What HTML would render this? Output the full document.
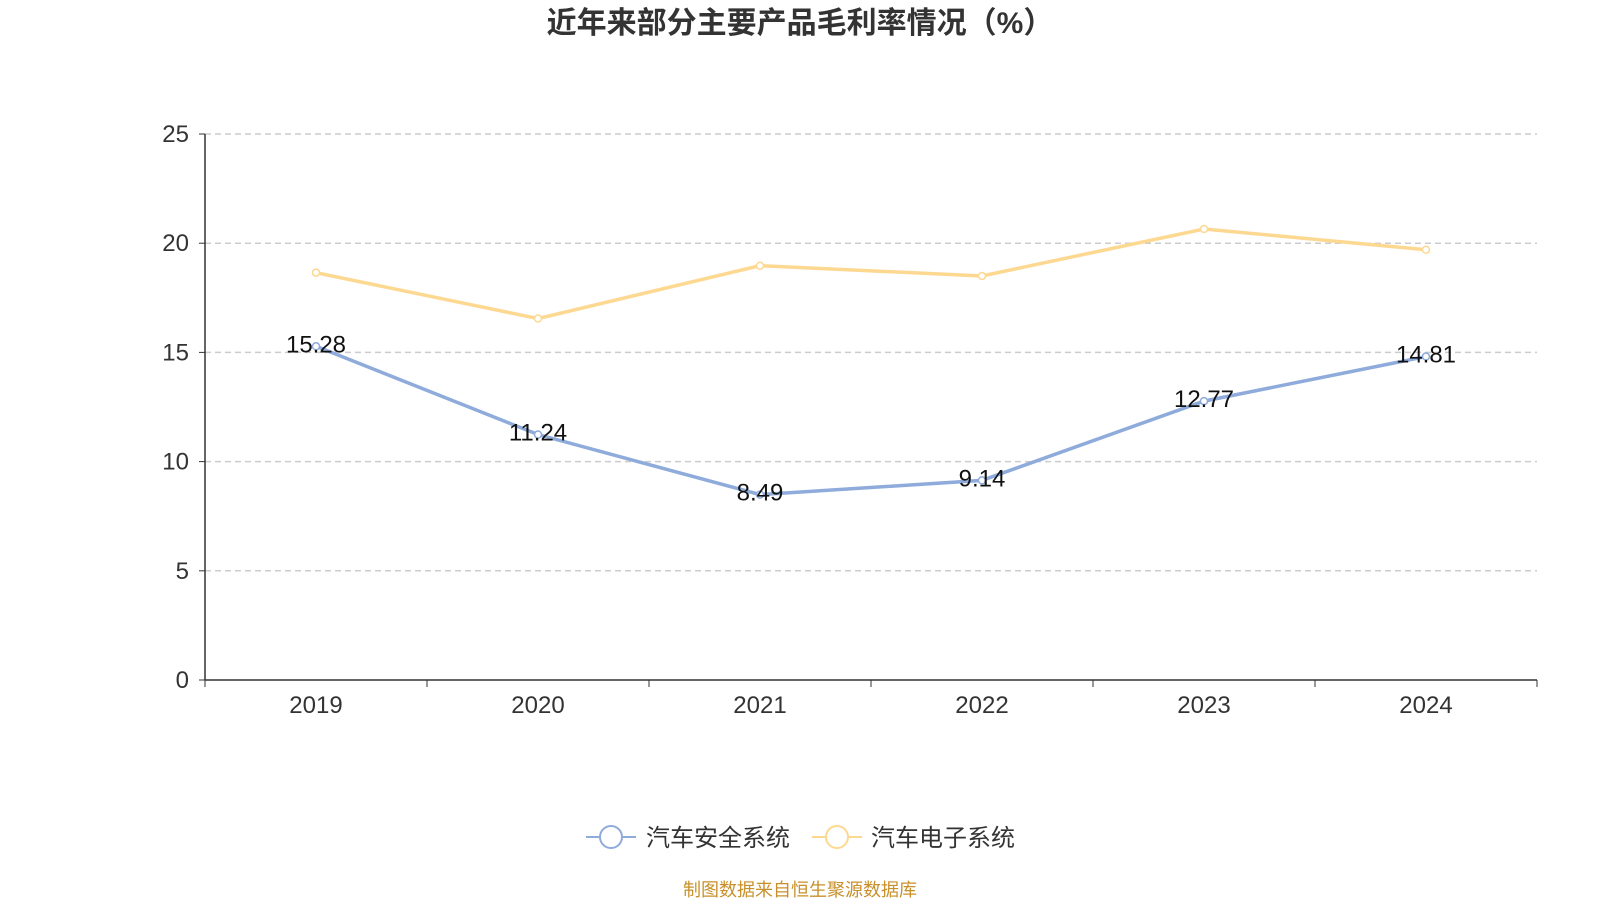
<!DOCTYPE html>
<html><head><meta charset="utf-8"><style>
body{margin:0;background:#fff;}
svg text{font-family:"Liberation Sans","Noto Sans CJK SC",sans-serif;}
</style></head><body>
<svg width="1600" height="900" xmlns="http://www.w3.org/2000/svg" id="chart">
<text x="800" y="33" text-anchor="middle" font-size="30" font-weight="bold" fill="#333">近年来部分主要产品毛利率情况（%）</text>
<g id="grid"></g><g id="axes"></g><g id="series"></g>
<g>
<g>
<line x1="586" y1="837" x2="636" y2="837" stroke="#8eabdb" stroke-width="2"/>
<circle cx="611" cy="837" r="11" fill="#fff" stroke="#8eabdb" stroke-width="2"/>
<text x="646" y="846" font-size="24" fill="#333">汽车安全系统</text></g>
<g>
<line x1="812" y1="837" x2="862" y2="837" stroke="#fdd891" stroke-width="2"/>
<circle cx="837" cy="837" r="11" fill="#fff" stroke="#fdd891" stroke-width="2"/>
<text x="871" y="846" font-size="24" fill="#333">汽车电子系统</text></g>
</g>
<text x="800" y="896" text-anchor="middle" font-size="18" fill="#c8902a">制图数据来自恒生聚源数据库</text>
</svg>
<script>
const categories=["2019","2020","2021","2022","2023","2024"];
const safetyValues=[15.28,11.24,8.49,9.14,12.77,14.81];
const electronicsValues=[18.65,16.55,18.97,18.5,20.65,19.7];
const yTicks=[0,5,10,15,20,25];
const NS="http://www.w3.org/2000/svg";
const L=205,R=1537,T=134,B=680,yMax=25;
const y=v=>B-(v/yMax)*(B-T);
const bw=(R-L)/categories.length;
const x=i=>L+bw*(i+0.5);
function mk(t,a,p,txt){const e=document.createElementNS(NS,t);for(const k in a)e.setAttribute(k,a[k]);if(txt!==undefined)e.textContent=txt;p.appendChild(e);return e;}
const grid=document.getElementById('grid'),axes=document.getElementById('axes'),series=document.getElementById('series');
yTicks.forEach(v=>{
 if(v>0){const g=mk('line',{x1:L,x2:R,y1:y(v),y2:y(v),stroke:'#ccc','stroke-dasharray':'6,4','stroke-width':1.5},grid);
 
 }
 mk('line',{x1:L-6,x2:L,y1:y(v),y2:y(v),stroke:'#333'},axes);
 const t=mk('text',{x:L-16,y:y(v)+8,'text-anchor':'end','font-size':24,fill:'#333'},axes,v);
 
 
});
const ya=mk('line',{x1:L,x2:L,y1:T,y2:B,stroke:'#333','stroke-width':1.5},axes);


const xa=mk('line',{x1:L,x2:R,y1:B,y2:B,stroke:'#333','stroke-width':1.5},axes);


for(let i=0;i<=categories.length;i++)mk('line',{x1:L+bw*i,x2:L+bw*i,y1:B,y2:B+7,stroke:'#333'},axes);
categories.forEach((c,i)=>{const t=mk('text',{x:x(i),y:B+33,'text-anchor':'middle','font-size':24,fill:'#333'},axes,c);
 
 });
function draw(vals,color,name,labels){
 const p=mk('polyline',{points:vals.map((v,i)=>x(i)+','+y(v)).join(' '),fill:'none',stroke:color,'stroke-width':3.5},series);
 
 
 vals.forEach((v,i)=>{const c=mk('circle',{cx:x(i),cy:y(v),r:3.5,fill:'#fff',stroke:color,'stroke-width':1.5},series);
  
  
  if(labels){const t=mk('text',{x:x(i),y:y(v)+6,'text-anchor':'middle','font-size':24,fill:'#111'},series,v.toFixed(2));
  
  }});
}
draw(electronicsValues,'#fdd891','electronics',false);
draw(safetyValues,'#8eabdb','safety',true);
</script>
</body></html>
